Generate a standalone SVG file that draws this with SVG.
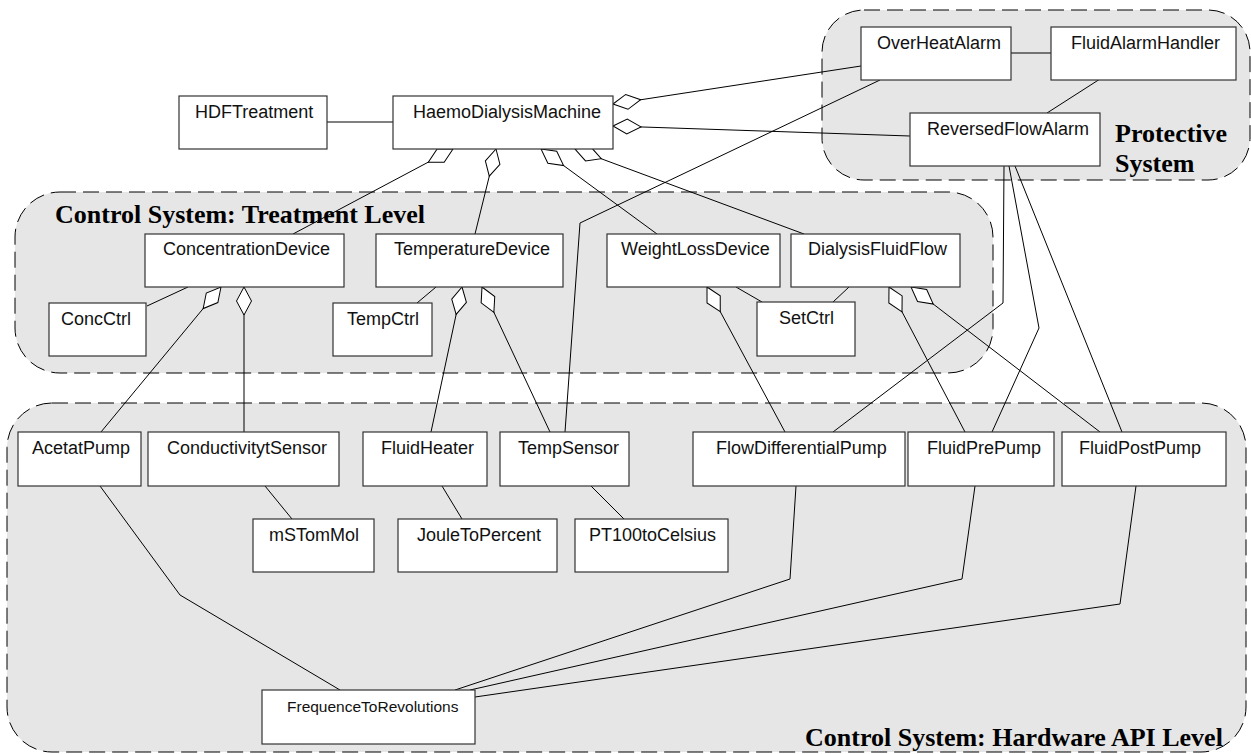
<svg xmlns="http://www.w3.org/2000/svg" width="1251" height="754" viewBox="0 0 1251 754">
<style>
.region{fill:#e6e6e6;stroke:#000;stroke-width:1;stroke-dasharray:16 7}
.rlabel{font-family:"Liberation Serif","Times New Roman",serif;font-weight:bold;font-size:26px;fill:#000}
.box{fill:#fff;stroke:#333;stroke-width:1.2}
.lbl{font-family:"Liberation Sans",Arial,sans-serif;font-size:18px;fill:#111}
.c{fill:none;stroke:#000;stroke-width:1}
.agg{marker-start:url(#dia)}
</style>
<defs>
<marker id="dia" markerUnits="userSpaceOnUse" viewBox="-1 -9 30 18" markerWidth="30" markerHeight="18" refX="0" refY="0" orient="auto" overflow="visible">
<path d="M0,0 L14,-7.5 L28,0 L14,7.5 Z" fill="#fff" stroke="#000" stroke-width="1"/>
</marker>
</defs>
<g id="regions">
<rect class="region" x="822" y="10" width="428" height="170" rx="42" ry="42"/>
<rect class="region" x="15" y="192" width="978" height="181" rx="45" ry="45"/>
<rect class="region" x="7" y="403" width="1239" height="349" rx="45" ry="45"/>
<text class="rlabel" x="1115" y="142">Protective</text>
<text class="rlabel" x="1115" y="172">System</text>
<text class="rlabel" x="55" y="223">Control System: Treatment Level</text>
<text class="rlabel" x="805" y="746">Control System: Hardware API Level</text>
</g>
<g id="connectors">
<polyline class="c" points="327,122 393,122"/>
<polyline class="c" points="1011,53 1051,53"/>
<polyline class="c" points="1100,79 1047,113"/>
<polyline class="c" points="880,80 580,223 565,432"/>
<polyline class="c" points="147,306 188,287"/>
<polyline class="c" points="417,303 436,287"/>
<polyline class="c" points="736,287 762,302"/>
<polyline class="c" points="849,287 833,302"/>
<polyline class="c" points="1004,166 1003,303 833,432"/>
<polyline class="c" points="1009,166 1039,328 992,432"/>
<polyline class="c" points="1015,166 1122,432"/>
<polyline class="c agg" points="453,149 293,234"/>
<polyline class="c agg" points="496,149 475,234"/>
<polyline class="c agg" points="541,149 657,234"/>
<polyline class="c agg" points="575,149 804,234"/>
<polyline class="c agg" points="613,104 861,66"/>
<polyline class="c agg" points="613,126 910,136"/>
<polyline class="c agg" points="221,287 101,432"/>
<polyline class="c agg" points="244,287 244,432"/>
<polyline class="c agg" points="462,287 431,432"/>
<polyline class="c agg" points="482,287 550,432"/>
<polyline class="c agg" points="707,287 785,432"/>
<polyline class="c agg" points="889,287 965,432"/>
<polyline class="c agg" points="911,287 1100,432"/>
<polyline class="c" points="265,486 292,519"/>
<polyline class="c" points="442,486 462,519"/>
<polyline class="c" points="591,486 624,519"/>
<polyline class="c" points="100,486 180,595 340,690"/>
<polyline class="c" points="796,486 790,579 455,690"/>
<polyline class="c" points="975,486 962,579 470,690"/>
<polyline class="c" points="1136,486 1120,604 475,697"/>
</g>
<g id="OverHeatAlarm"><rect class="box" x="861" y="27" width="150" height="53"/><text class="lbl" x="877" y="49">OverHeatAlarm</text></g>
<g id="FluidAlarmHandler"><rect class="box" x="1051" y="27" width="185" height="53"/><text class="lbl" x="1071" y="49">FluidAlarmHandler</text></g>
<g id="ReversedFlowAlarm"><rect class="box" x="910" y="113" width="190" height="53"/><text class="lbl" x="927" y="135">ReversedFlowAlarm</text></g>
<g id="HDFTreatment"><rect class="box" x="179" y="96" width="148" height="53"/><text class="lbl" x="195" y="118">HDFTreatment</text></g>
<g id="HaemoDialysisMachine"><rect class="box" x="393" y="96" width="220" height="53"/><text class="lbl" x="413" y="118">HaemoDialysisMachine</text></g>
<g id="ConcentrationDevice"><rect class="box" x="145" y="234" width="199" height="53"/><text class="lbl" x="163" y="255">ConcentrationDevice</text></g>
<g id="TemperatureDevice"><rect class="box" x="376" y="234" width="187" height="53"/><text class="lbl" x="394" y="255">TemperatureDevice</text></g>
<g id="WeightLossDevice"><rect class="box" x="607" y="234" width="173" height="53"/><text class="lbl" x="621" y="255">WeightLossDevice</text></g>
<g id="DialysisFluidFlow"><rect class="box" x="791" y="234" width="169" height="53"/><text class="lbl" x="808" y="255">DialysisFluidFlow</text></g>
<g id="ConcCtrl"><rect class="box" x="49" y="303" width="97" height="53"/><text class="lbl" x="61" y="325">ConcCtrl</text></g>
<g id="TempCtrl"><rect class="box" x="333" y="303" width="99" height="53"/><text class="lbl" x="347" y="325">TempCtrl</text></g>
<g id="SetCtrl"><rect class="box" x="757" y="302" width="98" height="54"/><text class="lbl" x="779" y="324">SetCtrl</text></g>
<g id="AcetatPump"><rect class="box" x="18" y="432" width="123" height="54"/><text class="lbl" x="32" y="454">AcetatPump</text></g>
<g id="ConductivitytSensor"><rect class="box" x="148" y="432" width="191" height="54"/><text class="lbl" x="167" y="454">ConductivitytSensor</text></g>
<g id="FluidHeater"><rect class="box" x="363" y="432" width="124" height="54"/><text class="lbl" x="381" y="454">FluidHeater</text></g>
<g id="TempSensor"><rect class="box" x="500" y="432" width="129" height="54"/><text class="lbl" x="518" y="454">TempSensor</text></g>
<g id="FlowDifferentialPump"><rect class="box" x="693" y="432" width="212" height="54"/><text class="lbl" x="716" y="454">FlowDifferentialPump</text></g>
<g id="FluidPrePump"><rect class="box" x="908" y="432" width="146" height="54"/><text class="lbl" x="927" y="454">FluidPrePump</text></g>
<g id="FluidPostPump"><rect class="box" x="1062" y="432" width="164" height="54"/><text class="lbl" x="1079" y="454">FluidPostPump</text></g>
<g id="mSTomMol"><rect class="box" x="253" y="519" width="121" height="53"/><text class="lbl" x="269" y="541">mSTomMol</text></g>
<g id="JouleToPercent"><rect class="box" x="398" y="519" width="159" height="53"/><text class="lbl" x="417" y="541">JouleToPercent</text></g>
<g id="PT100toCelsius"><rect class="box" x="575" y="519" width="153" height="53"/><text class="lbl" x="589" y="541">PT100toCelsius</text></g>
<g id="FrequenceToRevolutions"><rect class="box" x="262" y="690" width="213" height="54"/><text class="lbl" x="287" y="712" style="font-size:15.5px">FrequenceToRevolutions</text></g>
</svg>
